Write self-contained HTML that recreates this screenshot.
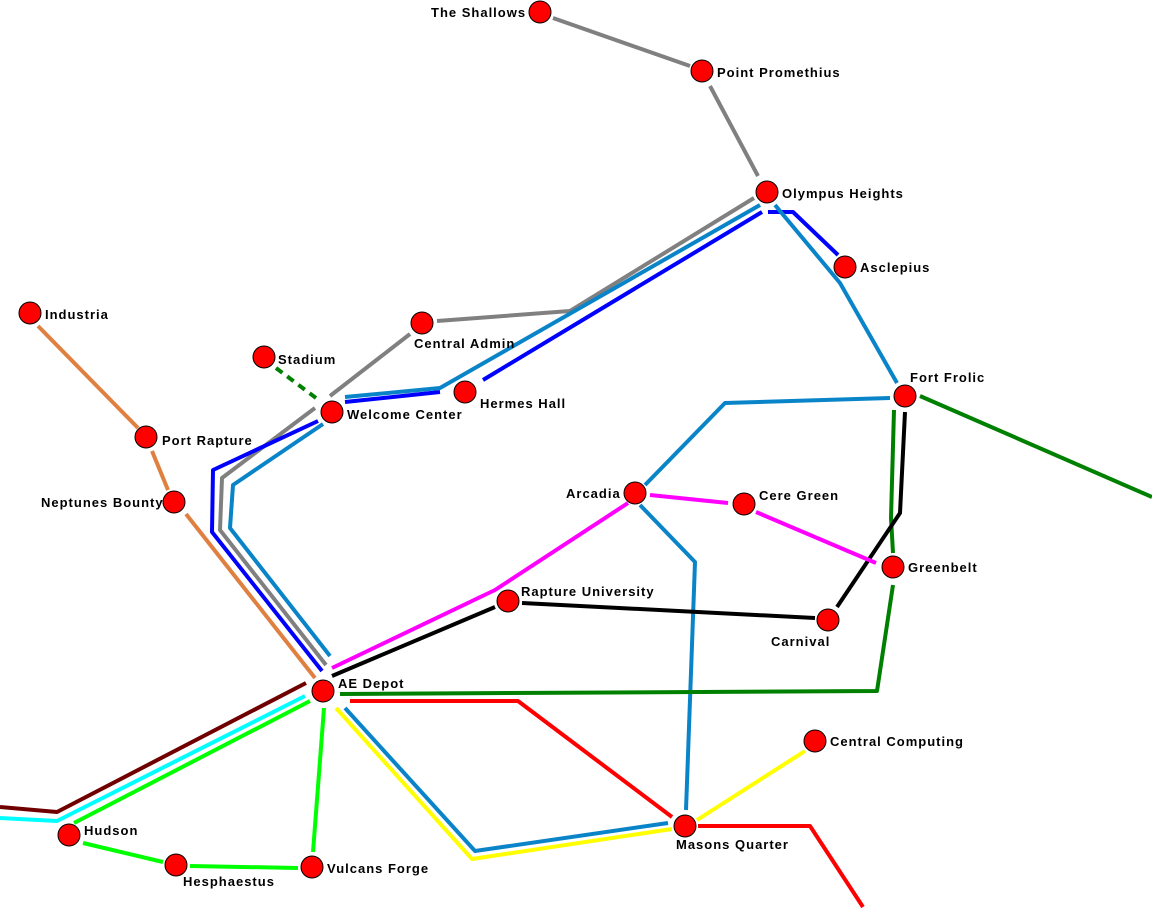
<!DOCTYPE html>
<html><head><style>body{margin:0;background:#fff}svg{display:block}text{font-family:"Liberation Sans",sans-serif;font-size:13px;font-weight:bold;fill:#000;letter-spacing:1px}</style></head><body>
<svg width="1152" height="912" viewBox="0 0 1152 912" xmlns="http://www.w3.org/2000/svg">
<g fill="none" stroke-width="4" stroke-linejoin="round">
<g stroke="#808080">
<polyline points="553,18 690,66"/><polyline points="710,86 758,176"/>
<polyline points="754,198 570,311 437,321"/><polyline points="410,334 330,396"/>
<polyline points="315,408 222,478 220,530 326,665"/>
</g>
<g stroke="#0000ff">
<polyline points="838,255 793,212 768,212"/><polyline points="762,212 483,380"/>
<polyline points="440,392 345,402"/><polyline points="318,421 213,470 212,532 322,671"/>
</g>
<g stroke="#0a84c8">
<polyline points="775,205 840,283 897,383"/><polyline points="760,205 440,388 345,397"/>
<polyline points="323,424 233,485 230,528 330,656"/>
<polyline points="890,398 725,403 645,485"/><polyline points="640,505 695,562 686,810"/>
<polyline points="345,708 475,851 668,823"/>
</g>
<g stroke="#008000">
<polyline points="920,396 1152,497"/><polyline points="894,410 891,518 893,553"/>
<polyline points="893,585 877,691 340,694"/>
<polyline points="276,368 320,401" stroke-dasharray="8,6"/>
</g>
<g stroke="#000">
<polyline points="905,412 900,513 837,607"/><polyline points="815,618 522,603"/><polyline points="495,607 332,676"/>
</g>
<g stroke="#ff00ff">
<polyline points="650,495 728,503"/><polyline points="756,512 876,563"/><polyline points="628,503 495,590 332,668"/>
</g>
<g stroke="#e08040">
<polyline points="38,326 138,428"/><polyline points="152,451 168,490"/><polyline points="186,514 315,678"/>
</g>
<g stroke="#ff0000">
<polyline points="350,701 518,701 672,817"/><polyline points="698,826 810,826 863,907"/>
</g>
<g stroke="#ffff00">
<polyline points="336,708 472,859 672,829"/><polyline points="697,820 805,751"/>
</g>
<polyline stroke="#700000" points="0,807 57,812 306,683"/>
<polyline stroke="#00ffff" points="0,818 57,821 305,696"/>
<g stroke="#00ff00">
<polyline points="74,823 310,701"/><polyline points="324,708 313,852"/>
<polyline points="83,843 163,862"/><polyline points="190,866 298,868"/>
</g>
</g>
<g fill="#ff0000" stroke="#000" stroke-width="1">
<circle cx="540" cy="12" r="11"/><circle cx="702" cy="71" r="11"/><circle cx="767" cy="192" r="11"/>
<circle cx="845" cy="267" r="11"/><circle cx="30" cy="313" r="11"/><circle cx="422" cy="323" r="11"/>
<circle cx="264" cy="357" r="11"/><circle cx="465" cy="392" r="11"/><circle cx="332" cy="412" r="11"/>
<circle cx="905" cy="396" r="11"/><circle cx="146" cy="437" r="11"/><circle cx="174" cy="502" r="11"/>
<circle cx="635" cy="493" r="11"/><circle cx="744" cy="504" r="11"/><circle cx="893" cy="567" r="11"/>
<circle cx="508" cy="601" r="11"/><circle cx="828" cy="620" r="11"/><circle cx="323" cy="691" r="11"/>
<circle cx="815" cy="741" r="11"/><circle cx="685" cy="826" r="11"/><circle cx="69" cy="835" r="11"/>
<circle cx="176" cy="865" r="11"/><circle cx="312" cy="867" r="11"/>
</g>
<text x="431" y="17">The Shallows</text>
<text x="717" y="77">Point Promethius</text>
<text x="782" y="198">Olympus Heights</text>
<text x="860" y="272">Asclepius</text>
<text x="45" y="319">Industria</text>
<text x="414" y="348">Central Admin</text>
<text x="278" y="364">Stadium</text>
<text x="480" y="408">Hermes Hall</text>
<text x="347" y="419">Welcome Center</text>
<text x="910" y="382">Fort Frolic</text>
<text x="162" y="445">Port Rapture</text>
<text x="41" y="507">Neptunes Bounty</text>
<text x="566" y="498">Arcadia</text>
<text x="759" y="500">Cere Green</text>
<text x="908" y="572">Greenbelt</text>
<text x="521" y="596">Rapture University</text>
<text x="771" y="646">Carnival</text>
<text x="338" y="688">AE Depot</text>
<text x="830" y="746">Central Computing</text>
<text x="676" y="849">Masons Quarter</text>
<text x="84" y="835">Hudson</text>
<text x="183" y="886">Hesphaestus</text>
<text x="327" y="873">Vulcans Forge</text>
</svg>
</body></html>
